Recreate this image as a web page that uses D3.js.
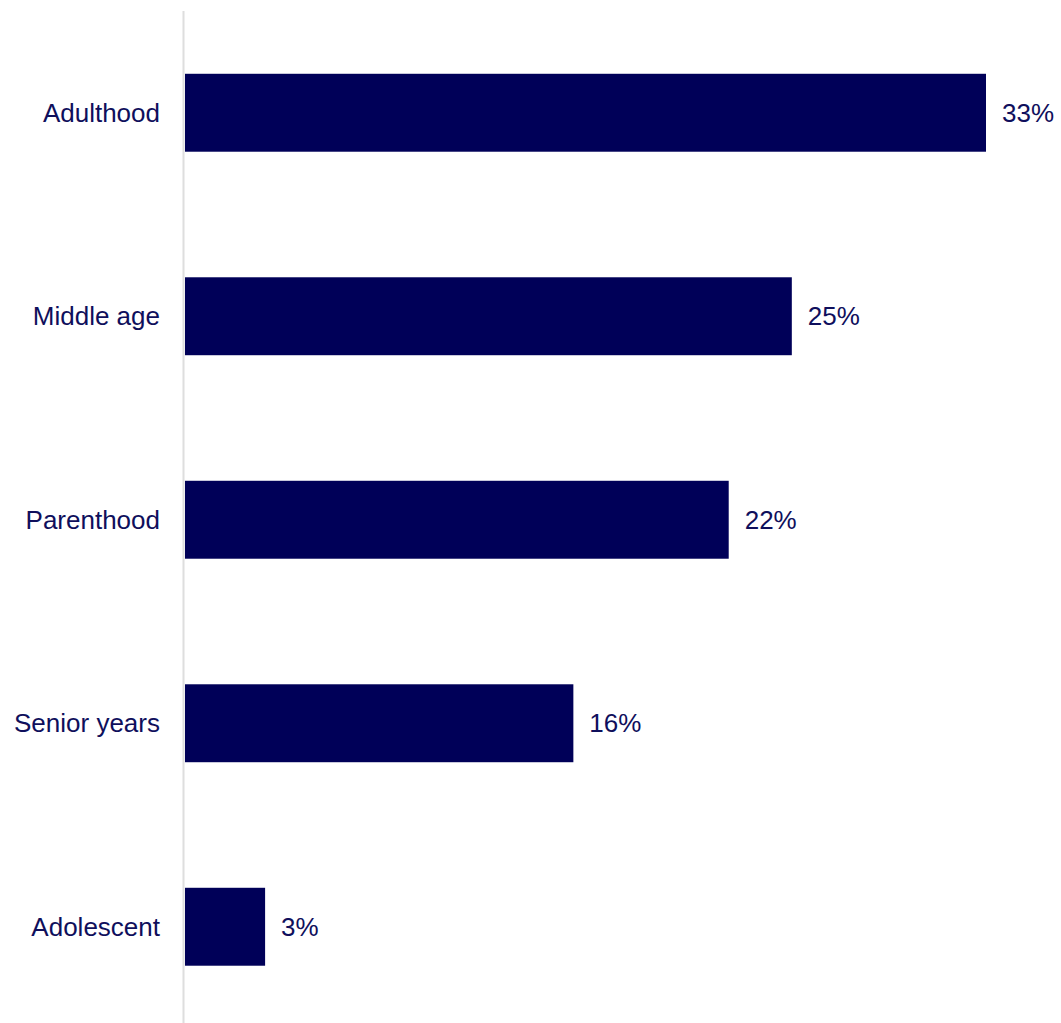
<!DOCTYPE html>
<html>
<head>
<meta charset="utf-8">
<script src="https://cdn.jsdelivr.net/npm/d3@7"></script>
<style>
  html, body { margin: 0; padding: 0; background: #fff; }
  svg { display: block; }
</style>
</head>
<body>
<script>
// Share of respondents by life stage
const categories = ["Adulthood", "Middle age", "Parenthood", "Senior years", "Adolescent"];
const values = [33, 25, 22.4, 16, 3.3];

const width = 1061, height = 1023;
const barColor = "#000058";
const textColor = "#0f0f5c";
const font = "'Liberation Sans', Arial, sans-serif";

const svg = d3.select("body").append("svg")
  .attr("width", width)
  .attr("height", height);

const x = d3.scaleLinear()
  .domain([0, 33])
  .range([185, 986]);

const y = d3.scaleBand()
  .domain(categories)
  .range([11, 1028.5])
  .paddingInner(0.617)
  .paddingOuter(0.3085);

// Baseline axis
svg.append("line")
  .attr("x1", 183.5).attr("x2", 183.5)
  .attr("y1", 11).attr("y2", height)
  .attr("stroke", "#dedede")
  .attr("stroke-width", 2);

const data = categories.map((c, i) => ({ c, v: values[i] }));

svg.selectAll("rect.bar")
  .data(data)
  .join("rect")
  .attr("class", "bar")
  .attr("x", x(0))
  .attr("y", d => y(d.c))
  .attr("width", d => x(d.v) - x(0))
  .attr("height", y.bandwidth())
  .attr("fill", barColor);

// Category labels
svg.selectAll("text.cat")
  .data(data)
  .join("text")
  .attr("class", "cat")
  .attr("x", 160)
  .attr("y", d => y(d.c) + y.bandwidth() / 2)
  .attr("dy", "0.35em")
  .attr("text-anchor", "end")
  .attr("font-family", font)
  .attr("font-size", 26)
  .attr("fill", textColor)
  .text(d => d.c);

// Value labels
const fmt = d => Math.round(d) + "%";
svg.selectAll("text.val")
  .data(data)
  .join("text")
  .attr("class", "val")
  .attr("x", d => x(d.v) + 16)
  .attr("y", d => y(d.c) + y.bandwidth() / 2)
  .attr("dy", "0.35em")
  .attr("font-family", font)
  .attr("font-size", 26)
  .attr("fill", textColor)
  .text(d => fmt(d.v));
</script>
</body>
</html>
